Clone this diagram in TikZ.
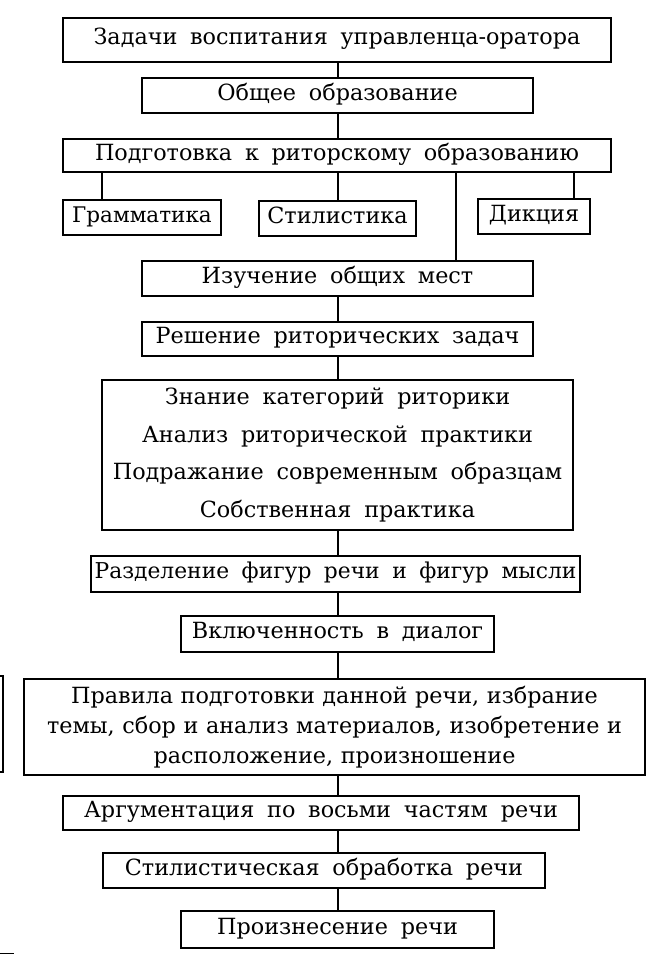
\documentclass[tikz,border=0pt]{standalone}
\usepackage{fontspec}
\setmainfont{DejaVu Serif}[WordSpace=1.8]
\newcommand\tightspace{\spaceskip 0.34em\relax}
\begin{document}
\begin{tikzpicture}[x=1pt, y=-1pt,
    every node/.style = {
    draw, line width=1.4pt, inner sep=0pt, align=center,
    text height=1.12em, text depth=0.2em,
    font=\fontsize{22.3}{26}\selectfont},
    box/.style = {minimum width=#1, minimum height=35pt},
    link/.style = {line width=1.3pt}
    ]
    \useasboundingbox (0,0) rectangle (648,956);
    \node[box=548pt, minimum height=44pt] (tasks) at (337,40) {Задачи воспитания управленца-оратора};
    \node[box=391pt] (general) at (337.5,95.5) {Общее образование};
    \node[box=548pt, minimum height=33pt] (prep) at (337,155.5) {Подготовка к риторскому образованию};
    \node[box=158pt, font=\fontsize{21.5}{26}\selectfont] (gram) at (142,217.5) {Грамматика};
    \node[box=157pt] (style) at (337.5,218.5) {Стилистика};
    \node[box=112pt] (diction) at (534,216.5) {Дикция};
    \node[box=391pt] (places) at (337.5,278.5) {Изучение общих мест};
    \node[box=391pt, minimum height=34pt] (solve) at (337.5,339) {Решение риторических задач};
    \node[box=471pt, minimum height=150pt, text height=, text depth=,
      font=\fontsize{22.3}{37.5}\selectfont] (cats) at (337.5,455)
      {Знание категорий риторики\\Анализ риторической практики\\
       Подражание современным образцам\\Собственная практика};
    \node[box=489pt, minimum height=36pt, font=\fontsize{21.8}{26}\selectfont] (figures) at (335.5,574) {Разделение фигур речи и фигур мысли};
    \node[box=313pt, minimum height=36pt] (dialog) at (337.5,634) {Включенность в диалог};
    \node[box=621pt, minimum height=96pt, text height=, text depth=,
      font=\fontsize{22.3}{30}\selectfont\tightspace] (rules) at (334.5,727)
      {Правила подготовки данной речи, избрание\\
       темы, сбор и анализ материалов, изобретение и\\
       расположение, произношение};
    \node[box=516pt, minimum height=34pt] (argue) at (321,813) {Аргументация по восьми частям речи};
    \node[box=442pt] (polish) at (324,870.5) {Стилистическая обработка речи};
    \node[box=313pt, minimum height=37pt] (deliver) at (337.5,929.5) {Произнесение речи};
    % vertical links
    \draw[link] (tasks.south -| 338,0) -- (general.north -| 338,0);
    \draw[link] (general.south -| 338,0) -- (prep.north -| 338,0);
    \draw[link] (prep.south -| 102,0) -- (gram.north -| 102,0);
    \draw[link] (prep.south -| 338,0) -- (style.north -| 338,0);
    \draw[link] (prep.south -| 574,0) -- (diction.north -| 574,0);
    \draw[link] (prep.south -| 456,0) -- (places.north -| 456,0);
    \draw[link] (places.south -| 338,0) -- (solve.north -| 338,0);
    \draw[link] (solve.south -| 338,0) -- (cats.north -| 338,0);
    \draw[link] (cats.south -| 338,0) -- (figures.north -| 338,0);
    \draw[link] (figures.south -| 338,0) -- (dialog.north -| 338,0);
    \draw[link] (dialog.south -| 338,0) -- (rules.north -| 338,0);
    \draw[link] (rules.south -| 338,0) -- (argue.north -| 338,0);
    \draw[link] (argue.south -| 338,0) -- (polish.north -| 338,0);
    \draw[link] (polish.south -| 338,0) -- (deliver.north -| 338,0);
    % cut-off neighbour at the left edge
    \draw[line width=1.4pt] (0,676) -- (3,676) -- (3,772) -- (0,772);
    \draw[line width=1pt] (0,953) -- (14,953);
\end{tikzpicture}
\end{document}
